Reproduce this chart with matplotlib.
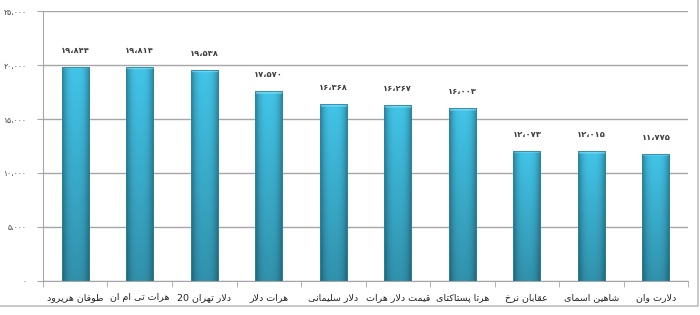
import numpy as np
import matplotlib
matplotlib.use("Agg")
import matplotlib.pyplot as plt
from matplotlib.patches import Rectangle

# chart data
names = ["طوفان هریرود", "هرات تی ام ان", "دلار تهران 20", "هرات دلار", "دلار سلیمانی",
         "قیمت دلار هرات", "هرتا پستاکتای", "عقابان نرخ", "شاهین اسمای", "دلارت وان"]
values = [19844, 19814, 19538, 17570, 16368, 16267, 16003, 12073, 12015, 11775]
yticks = [0, 5000, 10000, 15000, 20000, 25000]

# presentation forms: (isolated, final, initial, medial); right-joining letters have only two
FORMS = {
    'ا': (0xFE8D, 0xFE8E), 'د': (0xFEA9, 0xFEAA), 'ر': (0xFEAD, 0xFEAE), 'و': (0xFEED, 0xFEEE),
    'ب': (0xFE8F, 0xFE90, 0xFE91, 0xFE92), 'ت': (0xFE95, 0xFE96, 0xFE97, 0xFE98),
    'خ': (0xFEA5, 0xFEA6, 0xFEA7, 0xFEA8), 'س': (0xFEB1, 0xFEB2, 0xFEB3, 0xFEB4),
    'ش': (0xFEB5, 0xFEB6, 0xFEB7, 0xFEB8), 'ط': (0xFEC1, 0xFEC2, 0xFEC3, 0xFEC4),
    'ع': (0xFEC9, 0xFECA, 0xFECB, 0xFECC), 'ف': (0xFED1, 0xFED2, 0xFED3, 0xFED4),
    'ق': (0xFED5, 0xFED6, 0xFED7, 0xFED8), 'ل': (0xFEDD, 0xFEDE, 0xFEDF, 0xFEE0),
    'م': (0xFEE1, 0xFEE2, 0xFEE3, 0xFEE4), 'ن': (0xFEE5, 0xFEE6, 0xFEE7, 0xFEE8),
    'ه': (0xFEE9, 0xFEEA, 0xFEEB, 0xFEEC), 'پ': (0xFB56, 0xFB57, 0xFB58, 0xFB59),
    'ک': (0xFB8E, 0xFB8F, 0xFB90, 0xFB91), 'ی': (0xFBFC, 0xFBFD, 0xFBFE, 0xFBFF),
}


def shape_word(word):
    # pick joined forms, lam-alef ligature, then reverse into visual order
    out = []
    i = 0
    while i < len(word):
        ch = word[i]
        prev_joins = i > 0 and len(FORMS.get(word[i-1], ())) == 4
        if ch == 'ل' and i + 1 < len(word) and word[i+1] == 'ا':
            out.append(chr(0xFEFC if prev_joins else 0xFEFB))
            i += 2
            continue
        f = FORMS[ch]
        next_ok = len(f) == 4 and i + 1 < len(word) and word[i+1] in FORMS
        if prev_joins and next_ok:
            out.append(chr(f[3]))
        elif prev_joins:
            out.append(chr(f[1]))
        elif next_ok:
            out.append(chr(f[2]))
        else:
            out.append(chr(f[0]))
        i += 1
    return ''.join(reversed(out))


def rtl(text):
    words = []
    for w in text.split(' '):
        words.append(w if w.isdigit() else shape_word(w))
    return ' '.join(reversed(words))


def fa_num(n):
    s = f"{n:,}".replace(',', '،')
    return s.translate(str.maketrans('0123456789', '۰۱۲۳۴۵۶۷۸۹'))


plt.rcParams['font.family'] = ['DejaVu Sans']

fig = plt.figure(figsize=(7, 3.15), dpi=100)
ax = fig.add_axes([0.0614, 0.108, 0.9216, 0.857])

x = np.arange(len(values))
bars = ax.bar(x, values, width=0.42, facecolor='none', edgecolor='#2a86a6',
              linewidth=0.6, zorder=3)

# gradient fill for each bar
u = np.linspace(0, 1, 40)
hprof = 1 - 0.35 * np.abs(2 * u - 1) ** 3
base = np.array([0.26, 0.77, 0.91])
for rect, v in zip(bars, values):
    x0, w, h = rect.get_x(), rect.get_width(), rect.get_height()
    ny = 200
    vprof = np.linspace(0.74, 1.0, ny)
    img = base[None, None, :] * vprof[:, None, None] * hprof[None, :, None]
    cap = max(1, int(ny * 3 / (h / 25000 * 270)))
    img[-cap:] = img[-cap:] * 0.4 + np.array([0.55, 0.88, 0.97]) * 0.6
    im = ax.imshow(np.clip(img, 0, 1), extent=[x0, x0 + w, 0, h], origin='lower',
                   aspect='auto', zorder=2, interpolation='bilinear')
    im.set_clip_path(rect)
    ax.text(rect.get_x() + w / 2, h + 1100, fa_num(v), ha='center', va='bottom',
            fontsize=6, fontweight='bold', color='#404040')

ax.set_xlim(-0.5, len(values) - 0.5)
ax.set_ylim(0, 25000)
ax.set_yticks(yticks)
ax.set_yticklabels([fa_num(t) for t in yticks], fontsize=5.5, color='#404040')
ax.yaxis.grid(True, color='#a6a6a6', linewidth=1.0, zorder=0)
ax.set_axisbelow(True)

ax.set_xticks(x)
ax.set_xticklabels([rtl(n) for n in names], fontsize=6.8, color='#222222')
ax.set_xticks(np.arange(len(values) + 1) - 0.5, minor=True)
ax.tick_params(axis='x', which='major', length=0, pad=9)
ax.tick_params(axis='x', which='minor', length=4, color='#a6a6a6', direction='out')
ax.tick_params(axis='y', length=4, color='#a6a6a6', pad=8)

for side in ['top', 'right']:
    ax.spines[side].set_visible(False)
ax.spines['left'].set_color('#a6a6a6')
ax.spines['bottom'].set_color('#a6a6a6')

# outer chart border
fig.patches.append(Rectangle((-0.01, 0.028), 1.007, 1.0, transform=fig.transFigure,
                             fill=False, edgecolor='#bfbfbf', linewidth=1.2))

fig.savefig('out.png', dpi=100)
